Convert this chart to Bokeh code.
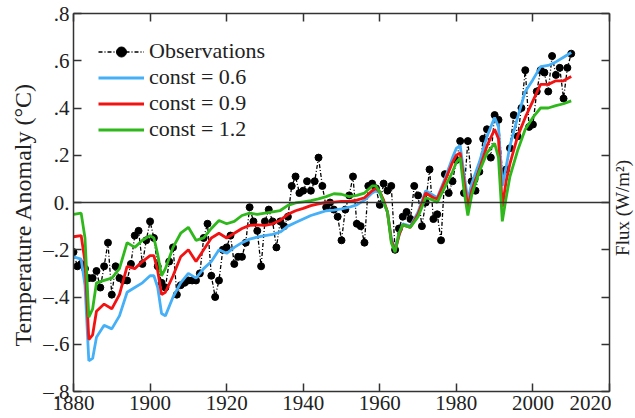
from bokeh.plotting import figure
from bokeh.layouts import row
from bokeh.models import Range1d, LinearAxis, Span, Label, Legend, LegendItem, FixedTicker
from bokeh.embed import file_html
from bokeh.resources import INLINE

# Observed global temperature anomaly, one value per year (deg C)
obs_years = list(range(1880, 2011))
obs_temp = [
    -0.21, -0.27, -0.26, -0.28, -0.32, -0.32, -0.29, -0.36, -0.27, -0.17,   # 1880s
    -0.39, -0.27, -0.32, -0.33, -0.33, -0.26, -0.14, -0.12, -0.26, -0.16,   # 1890s
    -0.08, -0.15, -0.27, -0.34, -0.36, -0.25, -0.19, -0.39, -0.35, -0.34,   # 1900s
    -0.33, -0.33, -0.33, -0.30, -0.15, -0.09, -0.31, -0.40, -0.33, -0.20,   # 1910s
    -0.19, -0.14, -0.26, -0.23, -0.23, -0.17, -0.02, -0.08, -0.12, -0.27,   # 1920s
    -0.08, -0.03, -0.08, -0.19, -0.08, -0.10, -0.06, 0.07, 0.11, 0.04,      # 1930s
    0.05, 0.09, 0.05, 0.09, 0.19, 0.07, -0.02, 0.00, -0.03, -0.06,          # 1940s
    -0.16, -0.03, 0.03, 0.11, -0.09, -0.10, -0.17, 0.07, 0.08, 0.06,        # 1950s
    -0.01, 0.08, 0.05, 0.07, -0.20, -0.11, -0.06, -0.04, -0.07, 0.07,       # 1960s
    0.03, -0.10, 0.00, 0.14, -0.07, -0.05, -0.16, 0.12, 0.04, 0.09,         # 1970s
    0.18, 0.26, 0.04, 0.26, 0.09, 0.05, 0.13, 0.27, 0.31, 0.19,             # 1980s
    0.37, 0.35, 0.13, 0.14, 0.23, 0.37, 0.28, 0.40, 0.56, 0.32,             # 1990s
    0.33, 0.47, 0.56, 0.55, 0.47, 0.62, 0.54, 0.57, 0.44, 0.57,             # 2000s
    0.63,                                                                   # 2010
]

# Simulated response for three values of the response constant
model_years = [
    1880, 1882, 1883, 1884, 1885, 1886, 1888, 1890, 1892, 1894,
    1896, 1898, 1900, 1901, 1902, 1903, 1904, 1906, 1908, 1910,
    1912, 1914, 1916, 1918, 1920, 1922, 1924, 1926, 1928, 1930,
    1932, 1934, 1936, 1938, 1940, 1942, 1944, 1946, 1948, 1950,
    1952, 1954, 1956, 1958, 1959, 1960, 1961, 1962, 1963, 1964,
    1965, 1966, 1968, 1970, 1972, 1974, 1975, 1977, 1979, 1980,
    1981, 1982, 1983, 1984, 1986, 1988, 1990, 1991, 1992, 1993,
    1994, 1996, 1998, 2000, 2002, 2004, 2006, 2008, 2010,
]
const_06 = [
    -0.23, -0.24, -0.35, -0.67, -0.66, -0.57, -0.52, -0.535, -0.48, -0.38,
    -0.36, -0.34, -0.31, -0.31, -0.36, -0.47, -0.48, -0.40, -0.34, -0.30,
    -0.32, -0.28, -0.25, -0.20, -0.215, -0.19, -0.17, -0.155, -0.147, -0.14,
    -0.135, -0.125, -0.10, -0.085, -0.07, -0.055, -0.045, -0.035, -0.032, -0.027,
    -0.02, -0.01, 0.01, 0.04, 0.05, 0.04, 0.00, -0.04, -0.15, -0.20,
    -0.14, -0.09, -0.10, -0.04, 0.05, 0.03, 0.02, 0.10, 0.19, 0.23,
    0.24, 0.12, 0.01, 0.08, 0.17, 0.28, 0.36, 0.32, 0.07, 0.15,
    0.24, 0.36, 0.47, 0.52, 0.575, 0.58, 0.595, 0.615, 0.635,
]
const_09 = [
    -0.145, -0.14, -0.25, -0.58, -0.56, -0.46, -0.43, -0.45, -0.39, -0.27,
    -0.28, -0.25, -0.225, -0.225, -0.29, -0.39, -0.38, -0.31, -0.23, -0.20,
    -0.25, -0.20, -0.15, -0.13, -0.15, -0.13, -0.11, -0.097, -0.095, -0.097,
    -0.09, -0.075, -0.05, -0.035, -0.025, -0.013, -0.006, 0.0, 0.002, 0.005,
    0.005, 0.01, 0.02, 0.05, 0.06, 0.045, 0.01, -0.04, -0.16, -0.205,
    -0.14, -0.095, -0.105, -0.05, 0.04, 0.02, 0.015, 0.09, 0.17, 0.20,
    0.21, 0.09, -0.02, 0.05, 0.14, 0.24, 0.31, 0.27, -0.02, 0.09,
    0.165, 0.28, 0.36, 0.43, 0.50, 0.50, 0.515, 0.515, 0.533,
]
const_12 = [
    -0.05, -0.045, -0.15, -0.485, -0.45, -0.34, -0.33, -0.32, -0.28, -0.17,
    -0.19, -0.16, -0.14, -0.15, -0.22, -0.31, -0.28, -0.19, -0.13, -0.105,
    -0.16, -0.15, -0.11, -0.076, -0.09, -0.08, -0.055, -0.045, -0.05, -0.045,
    -0.04, -0.034, -0.012, -0.002, 0.003, 0.008, 0.015, 0.025, 0.037, 0.035,
    0.025, 0.03, 0.04, 0.07, 0.07, 0.045, 0.0, -0.04, -0.17, -0.21,
    -0.13, -0.095, -0.105, -0.06, 0.02, 0.01, 0.0, 0.065, 0.13, 0.17,
    0.19, 0.05, -0.055, 0.03, 0.13, 0.21, 0.25, 0.19, -0.08, 0.02,
    0.11, 0.22, 0.31, 0.36, 0.40, 0.40, 0.41, 0.418, 0.43,
]

x_ticks = [1880, 1900, 1920, 1940, 1960, 1980, 2000, 2020]
y_ticks = [-0.8, -0.6, -0.4, -0.2, 0, 0.2, 0.4, 0.6, 0.8]
y_tick_labels = ["\u2013.8", "\u2013.6", "\u2013.4", "\u2013.2", "0.", ".2", ".4", ".6", ".8"]

SERIF = "Liberation Serif"
FRAME = "#333333"
TEXT = "#222222"

main = figure(
    width=611, height=418,
    x_range=Range1d(1880, 2020), y_range=Range1d(-0.8, 0.8),
    output_backend="svg", toolbar_location=None,
    x_axis_location=None, y_axis_location=None,
    min_border_left=73, min_border_right=2,
    min_border_top=13, min_border_bottom=27,
    background_fill_color="white", border_fill_color="white",
)
main.xgrid.visible = False
main.ygrid.visible = False
main.outline_line_color = None


def style_axis(ax, show_labels):
    ax.axis_line_color = FRAME
    ax.axis_line_width = 1.5
    ax.major_tick_line_color = FRAME
    ax.major_tick_line_width = 1.5
    ax.major_tick_in = 8
    ax.major_tick_out = 0
    ax.minor_tick_line_color = None
    ax.major_label_text_font = SERIF
    if show_labels:
        ax.major_label_text_color = TEXT
        ax.major_label_text_font_size = "21px"
        ax.major_label_standoff = 4
    else:
        # mirrored ticks only, no numbers
        ax.major_label_text_color = None
        ax.major_label_text_font_size = "0px"
        ax.major_label_standoff = 0
    ax.axis_label_text_font = SERIF
    ax.axis_label_text_font_style = "normal"
    ax.axis_label_text_color = TEXT


bottom = LinearAxis(ticker=FixedTicker(ticks=x_ticks))
style_axis(bottom, True)
top = LinearAxis(ticker=FixedTicker(ticks=x_ticks))
style_axis(top, False)

left = LinearAxis(ticker=FixedTicker(ticks=y_ticks),
                  major_label_overrides=dict(zip(y_ticks, y_tick_labels)))
style_axis(left, True)
left.axis_label = "Temperature Anomaly (\u00b0C)\u00a0\u00a0\u00a0\u00a0"
left.axis_label_text_font_size = "24px"
left.axis_label_standoff = 4

right = LinearAxis(ticker=FixedTicker(ticks=y_ticks))
style_axis(right, False)

main.add_layout(bottom, "below")
main.add_layout(top, "above")
main.add_layout(left, "left")
main.add_layout(right, "right")

# zero reference line
main.add_layout(Span(location=0, dimension="width", line_color=FRAME, line_width=1.5))

# observations: dash-dot connector with filled dots
obs_line = main.line(obs_years, obs_temp, line_color="black", line_width=1.3, line_dash="4 2 1 2")
obs_dots = main.scatter(obs_years, obs_temp, size=7, marker="circle",
                        fill_color="black", line_color="black")

r06 = main.line(model_years, const_06, line_color="#45b0f7", line_width=2.8)
r09 = main.line(model_years, const_09, line_color="#f21212", line_width=2.8)
r12 = main.line(model_years, const_12, line_color="#2fb81c", line_width=2.8)

legend = Legend(items=[
    LegendItem(label="Observations", renderers=[obs_line, obs_dots]),
    LegendItem(label="const = 0.6", renderers=[r06]),
    LegendItem(label="const = 0.9", renderers=[r09]),
    LegendItem(label="const = 1.2", renderers=[r12]),
], location="top_left")
legend.margin = 25
legend.padding = 0
legend.spacing = 0
legend.glyph_width = 46
legend.glyph_height = 25
legend.label_height = 25
legend.label_standoff = 5
legend.label_text_font = SERIF
legend.label_text_font_size = "22px"
legend.label_text_color = TEXT
legend.background_fill_alpha = 0
legend.border_line_color = None
main.add_layout(legend)

# narrow strip on the right carrying the flux axis title (reads bottom to top)
strip = figure(
    width=24, height=418,
    x_range=Range1d(0, 24), y_range=Range1d(-0.8, 0.8),
    output_backend="svg", toolbar_location=None,
    x_axis_location=None, y_axis_location=None,
    min_border_left=0, min_border_right=0,
    min_border_top=13, min_border_bottom=27,
    background_fill_color="white", border_fill_color="white",
)
strip.xgrid.visible = False
strip.ygrid.visible = False
strip.outline_line_color = None
strip.add_layout(Label(x=0.5, y=-0.023, text="Flux (W/m\u00b2)", angle=1.5707963,
                       text_font=SERIF, text_font_size="19px", text_color=TEXT,
                       text_align="center", text_baseline="top"))

p = row(main, strip, spacing=0)

open("out.html", "w").write(file_html(p, INLINE))
